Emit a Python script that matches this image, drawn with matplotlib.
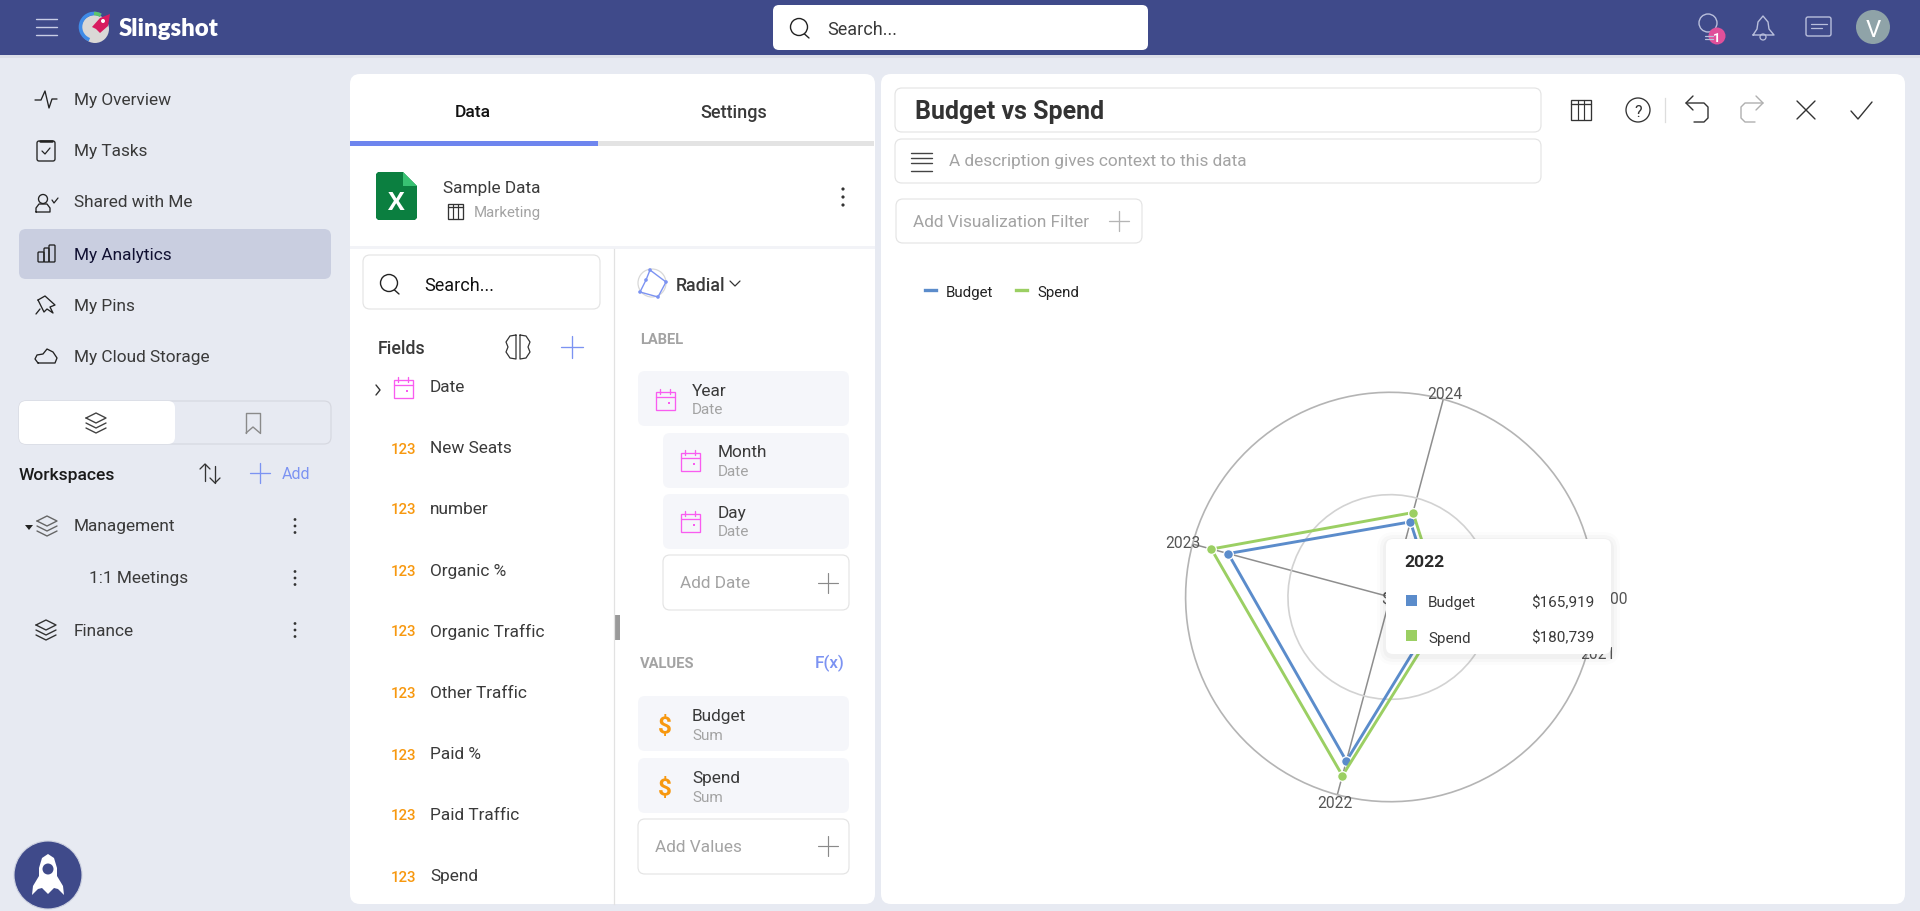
import numpy as np
import matplotlib
matplotlib.use('Agg')
import matplotlib.pyplot as plt
from matplotlib.patches import FancyBboxPatch, Circle, Polygon, Arc, Rectangle

plt.rcParams['font.family'] = ['Roboto', 'DejaVu Sans']

# Chart data
years = ['2021', '2022', '2023', '2024']
budget = [49000, 165919, 164000, 76000]
spend = [55000, 180739, 181000, 85400]
radial_ticks = [0, 100000, 200000]
radial_labels = ['$0', '$100,000', '$200,000']

# Screen text
nav_items = ['My Overview', 'My Tasks', 'Shared with Me', 'My Analytics', 'My Pins', 'My Cloud Storage']
field_items = ['New Seats', 'number', 'Organic %', 'Organic Traffic', 'Other Traffic', 'Paid %', 'Paid Traffic', 'Spend']
label_chips = [('Month', 'Date'), ('Day', 'Date')]
value_chips = [('Budget', 'Sum'), ('Spend', 'Sum')]

W, H = 1920, 911
BG = '#E7EAF2'
NAVY = '#3F4A8A'
TXT = '#3A3A3A'
GREY = '#A3A3A3'
LINE = '#E4E4E4'
BLUE = '#7C93F2'
MAGENTA = '#F95CF0'
ORANGE = '#F7980F'
C_BUDGET = '#5B8CCB'
C_SPEND = '#9BCF63'
FONT = 0.72  # px to pt at dpi 100
BODY = 17.3
SUB = 15.3

fig = plt.figure(figsize=(W / 100, H / 100), dpi=100, facecolor=BG)


def px_axes(zorder):
    a = fig.add_axes([0, 0, 1, 1], zorder=zorder)
    a.set_xlim(0, W)
    a.set_ylim(H, 0)
    a.axis('off')
    a.patch.set_alpha(0)
    return a


ax = px_axes(0)


def box(x0, y0, x1, y1, r=6, fc='white', ec='none', lw=0.85, a=None, alpha=None):
    a = a or ax
    a.add_patch(FancyBboxPatch((x0, y0), x1 - x0, y1 - y0, boxstyle=f'round,pad=0,rounding_size={r}',
                               fc=fc, ec=ec, lw=lw, alpha=alpha))


def txt(x, y, s, size=16, color=TXT, weight='normal', ha='left', a=None, **kw):
    a = a or ax
    return a.text(x, y, s, fontsize=size * FONT, color=color, fontweight=weight, ha=ha, va='center_baseline', **kw)


def seg(xs, ys, color='#333333', lw=1.0, a=None):
    (a or ax).plot(xs, ys, color=color, lw=lw, solid_capstyle='round', solid_joinstyle='round')


def plus(x, y, s=10, color=BLUE, lw=0.95):
    seg([x - s, x + s], [y, y], color, lw)
    seg([x, x], [y - s, y + s], color, lw)


def dots(x, y, gap=6.5, r=1.4, color='#333333'):
    for k in (-1, 0, 1):
        ax.add_patch(Circle((x, y + k * gap), r, fc=color, ec='none'))


def magnifier(x, y):
    ax.add_patch(Circle((x, y), 8.5, fc='none', ec='#222222', lw=1.0))
    seg([x + 5.5, x + 10], [y + 7, y + 11], '#222222', 1.0)


def calendar(x, y):
    ax.add_patch(Rectangle((x - 9.5, y - 8.5), 19, 18, fc='none', ec=MAGENTA, lw=0.95))
    seg([x - 9.5, x + 9.5], [y - 3.5, y - 3.5], MAGENTA, 0.95)
    seg([x - 5, x - 5], [y - 11, y - 6], MAGENTA, 0.95)
    seg([x + 5, x + 5], [y - 11, y - 6], MAGENTA, 0.95)
    ax.add_patch(Rectangle((x + 2.5, y + 1.5), 2.6, 2.6, fc=MAGENTA, ec='none'))


def layers(x, y, color='#333333'):
    seg([x - 10, x, x + 10, x, x - 10], [y - 5, y - 10, y - 5, y, y - 5], color, 1.0)
    seg([x - 10, x, x + 10], [y, y + 5, y], color, 1.0)
    seg([x - 10, x, x + 10], [y + 5, y + 10, y + 5], color, 1.0)


def table_icon(x, y, s=8.5):
    ax.add_patch(Rectangle((x - s, y - s), 2 * s, 2 * s, fc='none', ec='#333333', lw=0.95))
    seg([x - s, x + s], [y - s + 3.5, y - s + 3.5], '#333333', 0.95)
    for d in (-s / 3, s / 3):
        seg([x + d, x + d], [y - s, y + s], '#333333', 0.85)


def hook_arrow(x, color, flip=1):
    # x is the tip of the arrow, flip=-1 points it to the right
    seg([x + 7 * flip, x, x + 7 * flip], [96, 103, 110], color, 1.0)
    seg([x, x + 18 * flip, x + 22 * flip, x + 22 * flip, x + 18 * flip, x + 8 * flip],
        [103, 103, 107, 118, 122, 122], color, 1.0)


# Top bar
ax.add_patch(Rectangle((0, 55), W, 3, fc='#DCDFE8', ec='none'))
ax.add_patch(Rectangle((0, 0), W, 55, fc=NAVY, ec='none'))
for yy in (19, 27, 35):
    seg([36, 57], [yy, yy], '#C9CEE6', 1.0)
ax.add_patch(Circle((95, 29), 14, fc='#DAD8D6', ec='none'))
ax.add_patch(Arc((94, 27), 27, 27, theta1=110, theta2=300, ec='#3F8BE8', lw=2.6))
ax.add_patch(Arc((94, 27), 27, 27, theta1=270, theta2=300, ec='#5CC46A', lw=2.6))
ax.add_patch(Polygon([[92, 27], [100, 18], [110, 14], [108, 26], [100, 33], [96, 29]], fc='#D81B60', ec='none'))
ax.add_patch(Circle((103, 21), 2, fc='white', ec='none'))
txt(119, 27, 'Slingshot', 24, 'white', 'heavy', family='Lato')
box(773, 5, 1148, 50, 6)
magnifier(799, 27)
txt(827, 28, 'Search...', 18)
ax.add_patch(Circle((1708, 23), 9, fc='none', ec='#B9BFDC', lw=1.0))
seg([1705, 1713], [36, 36], '#B9BFDC', 0.9)
seg([1705, 1713], [39, 39], '#B9BFDC', 0.9)
ax.add_patch(Circle((1717, 36), 8.5, fc='#E0509A', ec='none'))
txt(1717, 36.5, '1', 13, 'white', 'bold', ha='center')
seg([1753, 1757, 1758, 1763, 1768, 1769, 1774, 1753], [35, 29, 22, 16, 22, 29, 35, 35], '#B9BFDC', 1.0)
ax.add_patch(Circle((1763, 37), 3, fc='none', ec='#B9BFDC', lw=0.9))
box(1806, 17, 1831, 36, 2, fc='none', ec='#B9BFDC', lw=1.0)
seg([1811, 1827], [24, 24], '#B9BFDC', 0.9)
seg([1811, 1822], [28, 28], '#B9BFDC', 0.9)
ax.add_patch(Circle((1873, 27), 17, fc='#8FA3A8', ec='none'))
txt(1873, 28, 'V', 24, 'white', ha='center')

# Left navigation
box(19, 229, 331, 279, 7, fc='#C9CEE0')
nav_y = [99, 150, 201, 254, 305, 356]
for name, yy in zip(nav_items, nav_y):
    txt(74, yy, name, BODY, '#111133' if name == 'My Analytics' else TXT)
seg([35, 41, 45, 49, 52, 57], [100, 100, 91, 108, 99, 99], '#222222', 0.95)
box(37, 141, 55, 161, 2, fc='none', ec='#222222', lw=0.95)
seg([40, 52], [141, 141], '#222222', 1.8)
seg([42, 45, 50], [151, 154, 148], '#222222', 0.9)
ax.add_patch(Circle((43, 199), 4.5, fc='none', ec='#222222', lw=0.95))
seg([36, 36, 39, 47, 50, 50, 36], [212, 208, 204, 204, 208, 212, 212], '#222222', 0.95)
seg([52, 54, 58], [200, 203, 198], '#222222', 0.9)
box(38, 252, 44, 262, 1, fc='none', ec='#222222', lw=0.95)
box(44, 248, 49, 262, 1, fc='none', ec='#222222', lw=0.95)
box(49, 245, 55, 262, 1, fc='none', ec='#222222', lw=0.95)
seg([38, 45, 55, 50, 53, 47, 44, 38], [300, 296, 305, 307, 313, 309, 312, 300], '#222222', 0.95)
seg([40, 36], [309, 314], '#222222', 0.95)
seg([38, 35, 37, 43, 47, 53, 57, 55, 38], [363, 359, 355, 354, 349, 352, 358, 363, 363], '#222222', 0.95)

# Workspaces
box(19, 401, 331, 444, 7, fc='none', ec='#D6D8E0')
box(19, 401, 175, 444, 7)
layers(96, 423, '#444444')
seg([246, 246, 260, 260], [433, 413, 413, 433], '#8A8A8A', 1.0)
seg([246, 253, 260], [433, 427, 433], '#8A8A8A', 1.0)
txt(19, 474, 'Workspaces', 17.5, '#1A1A1A', 'medium')
seg([205, 205], [464, 481], '#333333', 0.95)
seg([200, 205, 210], [469, 464, 469], '#333333', 0.95)
seg([215, 215], [466, 483], '#333333', 0.95)
seg([210, 215, 220], [478, 483, 478], '#333333', 0.95)
plus(260, 473, 10)
txt(282, 473, 'Add', 16, BLUE)
ax.add_patch(Polygon([[25, 525], [33, 525], [29, 530]], fc='#222222', ec='none'))
layers(47, 526, '#666666')
txt(74, 525, 'Management', BODY)
dots(295, 526)
txt(89, 577, '1:1 Meetings', BODY)
dots(295, 578)
layers(46, 630)
txt(74, 630, 'Finance', BODY)
dots(295, 630)
ax.add_patch(Circle((48, 875), 34, fc=NAVY, ec='#CDD1E0', lw=0.8))
ax.add_patch(Polygon([[48, 854], [54, 858], [57, 868], [57, 876], [63, 886], [64, 895], [58, 889], [54, 888],
                      [48, 894], [42, 888], [38, 889], [32, 895], [33, 886], [39, 876], [39, 868], [42, 858]],
                     fc='white', ec='none'))
ax.add_patch(Circle((48, 869), 5.5, fc=NAVY, ec='none'))

# Data panel
box(350, 74, 875, 904, 10)
txt(473, 111, 'Data', 17.5, '#111111', 'medium', ha='center')
txt(734, 111, 'Settings', 18, TXT, 'medium', ha='center')
ax.add_patch(Rectangle((598, 141), 276, 5, fc='#E3E3E3', ec='none'))
ax.add_patch(Rectangle((350, 141), 248, 5, fc='#6E85EE', ec='none'))
ax.add_patch(Polygon([[378, 172], [403, 172], [417, 186], [417, 218], [415, 220], [378, 220], [376, 218], [376, 174]],
                     fc='#0B7F40', ec='none'))
ax.add_patch(Polygon([[403, 172], [417, 186], [403, 186]], fc='#38C172', ec='none'))
txt(396, 201, 'X', 25, 'white', 'bold', ha='center', family='Open Sans')
txt(443, 187, 'Sample Data', BODY)
table_icon(455, 211, 7.5)
txt(474, 211, 'Marketing', 15, GREY)
dots(843, 197, 8, 1.6)
ax.add_patch(Rectangle((350, 246), 525, 3, fc='#F2F3F7', ec='none'))
ax.plot([613.5, 613.5], [249, 904], color='#E2E2E2', lw=0.9)
ax.add_patch(Rectangle((615, 615), 5, 25, fc='#9A9A9A', ec='none'))
box(363, 255, 600, 309, 7, fc='white', ec=LINE)
magnifier(389, 283)
txt(424, 284, 'Search...', 18, '#111111')
txt(378, 347, 'Fields', 17.8, TXT, 'medium')
# brain icon
seg([516, 510, 506, 508, 506, 510, 516, 516], [335, 336, 342, 347, 352, 358, 359, 335], '#333333', 0.9)
seg([520, 526, 530, 528, 530, 526, 520, 520], [335, 336, 342, 347, 352, 358, 359, 335], '#333333', 0.9)
plus(572, 347, 11)
seg([376, 380, 376], [385, 390, 395], '#333333', 1.0)
calendar(403, 388)
txt(430, 386, 'Date', BODY)
row_y = [447, 508, 570, 630, 692, 753, 814, 875]
for name, yy in zip(field_items, row_y):
    txt(391, yy + 1, '123', 15, ORANGE, 'medium')
    txt(430, yy, name, BODY)

# Chart type and wells
ax.add_patch(Circle((652, 283), 14, fc='none', ec='#D8D8D8', lw=0.9))
ax.add_patch(Polygon([[650, 270], [666, 282], [658, 297], [640, 292], [646, 280]], fc='none', ec='#7C93F2', lw=1.0))
for p in ([650, 270], [666, 282], [658, 297], [640, 292], [646, 280]):
    ax.add_patch(Circle(p, 1.8, fc='#7C93F2', ec='none'))
txt(676, 284, 'Radial', 17.8, TXT, 'medium')
seg([730, 735, 740], [281, 286, 281], '#333333', 0.9)
txt(640, 338, 'LABEL', 14.7, GREY, 'bold')
box(638, 371, 849, 426, 7, fc='#F5F6FA')
calendar(665, 400)
txt(692, 390, 'Year', BODY)
txt(692, 409, 'Date', SUB, GREY)
for (name, sub), y0 in zip(label_chips, [433, 494]):
    box(663, y0, 849, y0 + 55, 7, fc='#F5F6FA')
    calendar(690, y0 + 28)
    txt(718, y0 + 18, name, BODY)
    txt(718, y0 + 37, sub, SUB, GREY)
box(663, 555, 849, 610, 7, fc='white', ec=LINE)
txt(680, 582, 'Add Date', BODY, GREY)
plus(828, 583, 10, '#8A8A8A', 0.85)
txt(640, 663, 'VALUES', 14.8, GREY, 'bold')
txt(815, 662, 'F(x)', 17, BLUE, 'medium')
for (name, sub), y0 in zip(value_chips, [696, 758]):
    box(638, y0, 849, y0 + 55, 7, fc='#F5F6FA')
    txt(665, y0 + 28, '$', 24, ORANGE, 'bold', ha='center')
    txt(692, y0 + 19, name, BODY)
    txt(692, y0 + 38, sub, SUB, GREY)
box(638, 819, 849, 874, 7, fc='white', ec=LINE)
txt(655, 846, 'Add Values', BODY, GREY)
plus(828, 846, 10, '#8A8A8A', 0.85)

# Visualization panel
box(881, 74, 1905, 904, 10)
box(895, 88, 1541, 132, 7, fc='white', ec=LINE)
txt(915, 110, 'Budget vs Spend', 25, '#333333', 'bold')
box(895, 139, 1541, 183, 7, fc='white', ec=LINE)
for yy in (153, 158, 163, 171):
    seg([911, 932], [yy, yy], '#444444', 1.0)
txt(949, 160, 'A description gives context to this data', BODY, GREY)
box(896, 199, 1142, 243, 7, fc='white', ec=LINE)
txt(913, 221, 'Add Visualization Filter', BODY, GREY)
plus(1119, 221, 10, '#B5B5B5')
table_icon(1581, 110, 10)
ax.add_patch(Circle((1638, 110), 12, fc='none', ec='#333333', lw=0.95))
txt(1638, 111, '?', 16, '#333333', ha='center')
ax.plot([1665, 1665], [98, 122], color='#DDDDDD', lw=0.9)
hook_arrow(1686, '#333333')
hook_arrow(1763, '#AFAFAF', -1)
seg([1797, 1815], [101, 119], '#333333', 1.0)
seg([1815, 1797], [101, 119], '#333333', 1.0)
seg([1851, 1858, 1872], [111, 119, 102], '#333333', 1.0)
ax.plot([925, 936], [290, 290], color=C_BUDGET, lw=2.4)
txt(946, 291, 'Budget', 15, '#222222')
ax.plot([1016, 1027], [290, 290], color=C_SPEND, lw=2.4)
txt(1037, 291, 'Spend', 15, '#222222')

# Radial chart
cx, cy, rad = 1390.3, 597, 204.7
pol = fig.add_axes([(cx - rad) / W, (H - cy - rad) / H, 2 * rad / W, 2 * rad / H], projection='polar', zorder=2)
pol.patch.set_alpha(0)
pol.set_theta_direction(-1)
pol.set_theta_offset(np.radians(90 - 105))
theta = np.arange(len(years)) * 2 * np.pi / len(years)
theta_closed = np.append(theta, theta[0])
pol.set_ylim(radial_ticks[0], radial_ticks[-1])
pol.set_xticks(theta)
pol.set_xticklabels([])
pol.set_yticks(radial_ticks[1:-1])
pol.set_yticklabels([])
pol.xaxis.grid(True, color='#8E8E8E', lw=1.1)
pol.yaxis.grid(True, color='#D2D2D2', lw=1.2)
pol.spines['polar'].set_color('#B4B4B4')
pol.spines['polar'].set_linewidth(1.2)
pol.tick_params(length=0)
for series, color in ((budget, C_BUDGET), (spend, C_SPEND)):
    vals = np.append(series, series[0])
    pol.plot(theta_closed, vals, color=color, lw=2.1, marker='o', ms=7, mfc=color, mec='white', mew=0.9, clip_on=False)
label_r = [1.05, 1.036, 1.047, 1.034]
for t, name, k in zip(theta, years, label_r):
    pol.text(t, radial_ticks[-1] * k, name, fontsize=15.5 * FONT, color='#555555', ha='center', va='center_baseline')
east = np.radians(90 - 105)
for v, name in zip(radial_ticks, radial_labels):
    pol.text(east, v, name, fontsize=15.5 * FONT, color='#555555', ha='center', va='center_baseline')

# Tooltip on top of the chart
top = px_axes(5)
for grow, al in ((9, 0.012), (6, 0.018), (3, 0.025)):
    box(1386 - grow, 539 - grow + 2, 1611 + grow, 654 + grow + 2, 8 + grow, fc='#000000', a=top, alpha=al)
box(1386, 539, 1611, 654, 7, a=top)
txt(1404, 561, years[1], 17.5, '#2A2A2A', 'bold', a=top)
top.add_patch(Rectangle((1406, 595), 11, 11, fc=C_BUDGET, ec='none'))
txt(1428, 602, 'Budget', 15.3, TXT, a=top)
txt(1594, 602, f'${budget[1]:,}', 15.3, TXT, ha='right', a=top)
top.add_patch(Rectangle((1406, 630), 11, 11, fc=C_SPEND, ec='none'))
txt(1428, 637, 'Spend', 15.3, TXT, a=top)
txt(1594, 637, f'${spend[1]:,}', 15.3, TXT, ha='right', a=top)

fig.savefig('out.png', dpi=100, facecolor=BG)
